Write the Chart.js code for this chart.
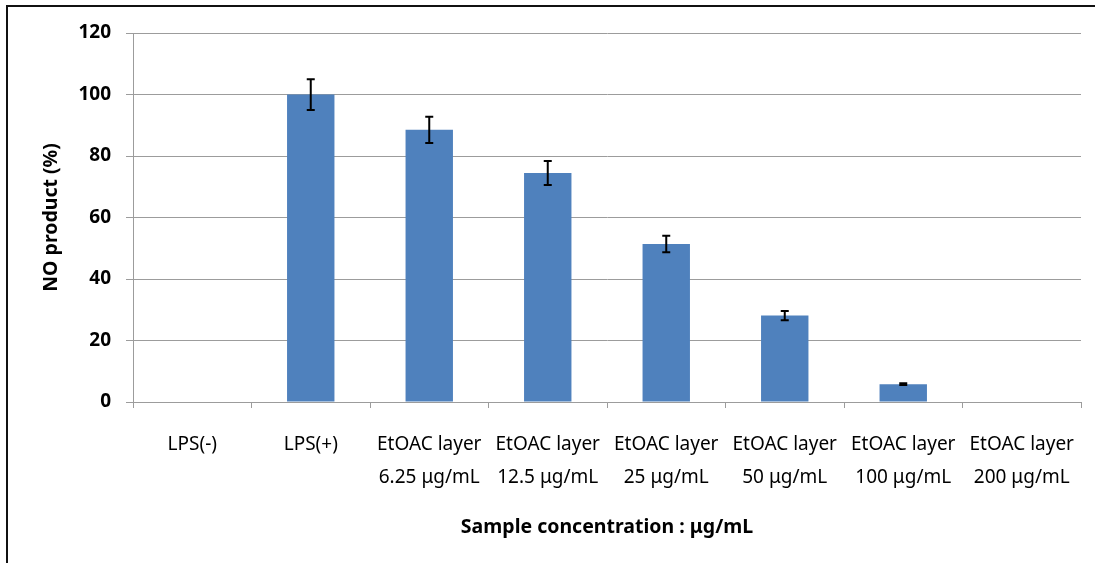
<!DOCTYPE html>
<html>
<head>
<meta charset="utf-8">
<script src="https://cdn.jsdelivr.net/npm/chart.js@4"></script>
<style>
  html, body { margin: 0; padding: 0; background: #fff; overflow: hidden; }
  #wrap { position: relative; width: 1095px; height: 563px; }
  #frame { position: absolute; left: 6px; top: 5px; width: 1200px; height: 700px;
           border-left: 2px solid #111; border-top: 2px solid #111; }
  canvas { position: absolute; left: 0; top: 0; }
</style>
</head>
<body>
<div id="wrap">
  <div id="frame"></div>
  <canvas id="myChart" width="1095" height="563"></canvas>
</div>
<script>
const labels = [
  "LPS(-)",
  "LPS(+)",
  ["EtOAC layer", "6.25 μg/mL"],
  ["EtOAC layer", "12.5 μg/mL"],
  ["EtOAC layer", "25 μg/mL"],
  ["EtOAC layer", "50 μg/mL"],
  ["EtOAC layer", "100 μg/mL"],
  ["EtOAC layer", "200 μg/mL"]
];
const noProduct = [0, 100, 88.5, 74.5, 51.4, 28.1, 5.8, 0];
const errors = [0, 5, 4.3, 3.9, 2.7, 1.5, 0.3, 0];
const yTicks = [0, 20, 40, 60, 80, 100, 120];

const errorBars = {
  id: "errorBars",
  afterDatasetsDraw(chart) {
    const ctx = chart.ctx;
    const meta = chart.getDatasetMeta(0);
    const y = chart.scales.y;
    ctx.save();
    ctx.strokeStyle = "#000";
    ctx.lineWidth = 2;
    meta.data.forEach((bar, i) => {
      if (!errors[i]) return;
      const top = y.getPixelForValue(noProduct[i] + errors[i]);
      const bot = y.getPixelForValue(noProduct[i] - errors[i]);
      const x = bar.x;
      ctx.beginPath();
      ctx.moveTo(x, top); ctx.lineTo(x, bot);
      ctx.moveTo(x - 4, top); ctx.lineTo(x + 4, top);
      ctx.moveTo(x - 4, bot); ctx.lineTo(x + 4, bot);
      ctx.stroke();
    });
    ctx.restore();
  }
};

const gridGray = "#9c9c9c";

new Chart(document.getElementById("myChart").getContext("2d"), {
  type: "bar",
  data: {
    labels: labels,
    datasets: [{
      data: noProduct,
      backgroundColor: "#4f81bd",
      categoryPercentage: 1,
      barPercentage: 0.4
    }]
  },
  options: {
    responsive: false,
    animation: false,
    layout: { padding: { left: 0, top: 33, right: 14, bottom: 0 } },
    plugins: { legend: { display: false }, tooltip: { enabled: false } },
    scales: {
      x: {
        afterFit: (s) => { s.height = 161; },
        grid: { drawOnChartArea: false, drawTicks: true, tickLength: 6, color: gridGray },
        border: { color: gridGray },
        ticks: {
          color: "#000",
          padding: 20,
          maxRotation: 0,
          autoSkip: false,
          font: { family: "'Noto Sans', sans-serif", size: 19, lineHeight: 1.74 }
        },
        title: {
          display: true,
          text: "Sample concentration : μg/mL",
          color: "#000",
          padding: { top: 0, bottom: 24 },
          font: { family: "'Noto Sans', sans-serif", size: 19.5, weight: "bold" }
        }
      },
      y: {
        min: 0,
        max: 120,
        afterFit: (s) => { s.width = 133; },
        afterBuildTicks: (s) => { s.ticks = yTicks.map(v => ({ value: v })); },
        grid: { color: gridGray, tickLength: 7, lineWidth: 1 },
        border: { color: gridGray },
        ticks: {
          color: "#000",
          padding: 15,
          font: { family: "'Noto Sans', sans-serif", size: 19, weight: "bold" }
        },
        title: {
          display: true,
          text: "NO product (%)",
          color: "#000",
          padding: { top: 40, bottom: 0 },
          font: { family: "'Noto Sans', sans-serif", size: 19.5, weight: "bold" }
        }
      }
    }
  },
  plugins: [errorBars]
});
</script>
</body>
</html>
